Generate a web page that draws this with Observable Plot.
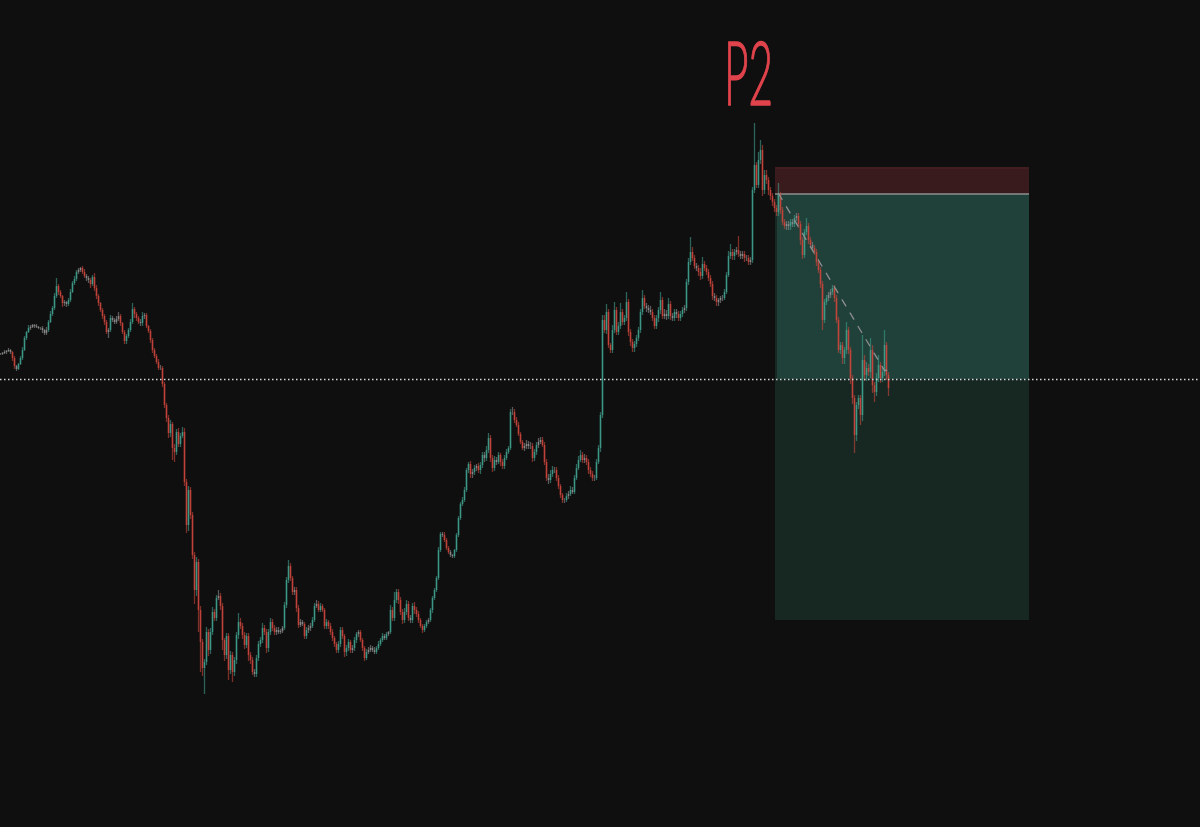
<!DOCTYPE html>
<html>
<head>
<meta charset="utf-8">
<style>
html,body{margin:0;padding:0;background:#0f0f0f;overflow:hidden}
svg{display:block}
</style>
<script src="https://cdn.jsdelivr.net/npm/d3@7"></script>
<script src="https://cdn.jsdelivr.net/npm/@observablehq/plot@0.6"></script>
</head>
<body>
<div id="chart"></div>
<script>
// Closing level per bar (scale runs downward: chart depth, no price axis is shown).
const closes = [
354,353,352,351,350,352,358,366,369,364,
358,350,338,332,328,327,325,326,327,328,
328,330,333,330,322,314,308,296,286,292,
296,303,302,304,300,292,283,279,272,270,
268,272,276,278,280,284,277,288,296,303,
310,316,322,332,330,318,320,322,319,316,
323,332,341,336,330,322,309,314,318,322,
323,316,315,326,331,340,350,356,362,368,
368,384,405,418,433,424,448,452,432,444,
436,432,482,525,490,515,555,590,562,610,
642,668,662,632,650,632,612,618,598,596,
606,640,655,636,670,655,672,660,635,622,
626,635,645,636,655,660,672,674,658,644,
640,628,632,648,632,622,628,632,630,632,
631,628,605,580,566,578,592,590,608,625,
622,624,636,630,628,626,620,606,604,610,
606,610,626,622,626,632,638,644,650,644,
630,636,652,648,642,650,648,640,634,632,
640,648,658,652,650,648,650,652,648,644,
640,636,638,634,632,610,618,600,592,600,
612,620,612,604,618,620,606,610,614,620,
626,630,626,622,620,610,598,590,578,550,
534,535,540,548,552,555,556,550,535,518,
504,500,490,470,464,474,472,468,466,470,
465,455,458,450,438,458,468,460,462,455,
462,466,458,452,448,412,412,420,425,434,
442,448,446,444,446,446,458,452,445,442,
440,445,462,478,480,474,470,470,478,486,
495,500,500,496,494,490,492,478,468,460,
455,460,458,462,470,474,478,478,462,448,
415,320,330,312,345,350,330,310,332,326,
312,322,318,302,332,342,348,344,338,330,
312,298,306,308,310,312,318,326,318,310,
300,316,314,316,304,316,318,312,314,318,
314,310,308,282,262,252,258,266,268,272,
276,264,268,272,278,284,296,298,302,300,
298,298,292,275,256,252,256,252,250,254,
256,254,258,258,262,260,190,165,185,160,
150,190,175,180,190,196,202,208,212,195,
210,222,226,224,226,222,224,218,216,224,
240,255,232,226,240,245,248,252,262,270,
284,320,302,298,295,292,288,298,320,350,
345,358,350,330,350,378,398,435,405,398,
415,360,375,368,372,350,385,392,378,365,
378,372,345,375,388
];
const wickUp = [
1,1,2,1,2,1,1,2,1,1,
2,3,2,1,3,2,1,1,2,1,
1,2,1,3,2,3,2,3,8,2,
2,1,2,1,2,3,2,3,2,2,
1,2,3,2,2,2,2,4,3,2,
1,2,2,2,2,3,2,2,3,4,
2,1,2,2,2,3,6,2,2,2,
3,4,2,2,1,2,2,2,2,3,
3,2,2,2,3,4,2,4,3,4,
3,5,4,3,4,3,3,3,5,3,
4,3,3,5,3,4,5,3,3,6,
3,3,2,3,3,4,3,3,3,9,
4,3,3,3,3,3,3,3,3,3,
3,5,3,3,3,4,3,3,3,3,
2,2,3,3,6,3,2,3,3,3,
3,2,2,3,3,3,3,3,4,3,
3,2,2,3,2,3,3,2,2,3,
3,3,2,3,3,2,3,3,2,2,
2,2,2,3,3,3,2,3,2,3,
2,3,2,2,1,5,3,8,3,3,
3,3,4,4,3,3,3,4,3,3,
2,2,2,2,2,2,2,2,2,3,
2,2,3,2,2,2,1,1,2,2,
2,3,3,2,2,3,3,3,2,3,
3,3,3,4,5,3,3,4,3,3,
2,3,3,3,2,3,5,3,3,3,
2,2,3,4,3,4,3,3,3,4,
3,3,3,3,4,4,4,3,3,3,
2,2,2,3,3,4,3,3,4,4,
5,3,4,3,3,3,3,3,3,3,
3,5,5,8,3,2,5,8,3,4,
9,3,3,10,3,3,3,3,3,3,
3,8,3,3,3,4,3,3,3,3,
8,3,5,4,6,3,3,3,3,3,
3,3,3,3,4,15,5,3,3,3,
4,7,3,3,3,3,3,3,3,2,
2,3,3,3,5,8,3,3,3,14,
3,3,3,3,3,3,3,42,3,8,
10,5,5,5,3,3,3,3,3,12,
3,3,3,3,3,3,3,3,3,3,
3,3,3,8,3,3,3,3,3,3,
3,3,3,3,3,3,3,3,3,3,
3,3,3,8,3,3,3,3,3,3,
3,25,5,6,4,12,5,3,5,10,
3,4,15,3,3
];
const wickDown = [
1,1,1,2,1,2,3,3,2,1,
1,2,1,2,1,2,1,2,1,1,
2,3,2,2,2,1,2,2,2,3,
2,4,3,3,2,2,1,2,2,2,
2,2,2,3,3,4,2,3,3,3,
2,3,3,2,6,2,2,2,2,2,
3,2,3,3,2,2,2,4,3,2,
3,3,3,2,2,3,3,2,2,2,
2,3,3,4,5,4,12,10,3,3,
3,2,4,8,6,4,4,14,6,22,
30,8,26,3,6,4,3,3,3,2,
4,10,6,4,10,4,10,4,4,4,
3,4,4,3,6,4,3,3,3,3,
3,3,3,5,4,3,3,3,3,2,
2,2,2,3,3,3,3,3,4,3,
2,2,3,3,3,3,2,2,2,2,
2,2,3,3,3,3,3,3,3,3,
3,3,5,4,3,3,3,3,3,3,
2,3,3,2,2,2,2,2,2,2,
2,2,2,2,2,2,3,3,3,4,
3,4,3,3,3,3,3,4,3,3,
2,3,2,2,2,2,3,2,2,2,
2,2,2,2,2,2,2,2,2,2,
2,2,2,2,3,4,4,3,3,3,
4,3,4,3,3,4,4,3,3,2,
4,3,3,2,2,2,3,3,2,2,
2,2,3,3,3,3,4,3,3,3,
2,2,3,3,4,3,3,3,3,3,
3,3,3,2,3,2,2,2,2,2,
2,3,3,3,4,3,3,3,2,2,
4,3,3,4,3,3,3,3,3,3,
3,3,3,3,4,4,4,4,3,3,
3,3,3,4,3,3,3,3,3,4,
4,3,3,4,3,4,3,3,4,3,
3,3,3,3,3,3,3,3,3,4,
4,3,3,3,3,3,4,3,4,4,
3,3,2,2,2,3,4,4,3,3,
3,3,4,3,3,3,3,3,3,3,
4,6,4,4,5,4,4,4,4,4,
4,3,3,4,4,4,3,3,3,4,
5,4,3,3,4,3,3,3,4,3,
4,10,3,3,3,3,3,4,3,3,
4,6,6,4,4,6,6,18,6,4,
10,6,6,6,4,6,8,10,4,4,
5,4,4,5,8
];

// Trade drawing levels, in bars and chart depth.
const tradeStartBar = 387.5, tradeInnerBar = 388.5, tradeEndBar = 514.5;
const stopLevel = 167, entryLevel = 193.5, currentLevel = 379, targetLevel = 620;
const pathBars = [389, 442, 445.5];
const pathLevels = [193, 370, 369];
const annotation = [{bar: 374, level: 104, label: "P2"}];

const colors = {background: "#0f0f0f", up: "#3f9c8b", down: "#c9453c", doji: "#8c8c8c",
  stop: "#3a1b1d", stopEdge: "#4b2023", targetDark: "#172823", targetLight: "#20413a",
  entry: "#8f8f8f", dots: "#d8d8d8", ink: "#e0434b"};

const bars = closes.map((close, i) => {
  const open = i ? closes[i - 1] : close;
  const hi = Math.min(open, close), lo = Math.max(open, close);
  return {i, open, close, high: hi - wickUp[i], low: lo + wickDown[i],
    kind: Math.abs(open - close) <= 3 ? "doji" : close < open ? "up" : "down"};
});
const path = pathBars.map((bar, k) => ({bar, level: pathLevels[k]}));

const plot = Plot.plot({
  width: 1200, height: 827,
  marginTop: 0, marginRight: 0, marginBottom: 0, marginLeft: 0,
  style: {background: colors.background},
  x: {domain: [0, 600], range: [0, 1200], axis: null},
  y: {domain: [0, 827], range: [0, 827], axis: null},
  color: {domain: ["up", "down", "doji"], range: [colors.up, colors.down, colors.doji]},
  marks: [
    Plot.rectY([0], {x1: tradeStartBar, x2: tradeEndBar, y1: entryLevel, y2: targetLevel, fill: colors.targetDark}),
    Plot.rectY([0], {x1: tradeInnerBar, x2: tradeEndBar, y1: entryLevel, y2: currentLevel, fill: colors.targetLight}),
    Plot.rectY([0], {x1: tradeStartBar, x2: tradeEndBar, y1: stopLevel, y2: entryLevel, fill: colors.stop}),
    Plot.ruleY([stopLevel + 0.5], {x1: tradeStartBar, x2: tradeEndBar, stroke: colors.stopEdge, strokeWidth: 1}),
    Plot.ruleY([entryLevel], {x1: tradeStartBar, x2: tradeEndBar, stroke: colors.entry, strokeWidth: 1.5}),
    Plot.ruleX(bars, {x: "i", y1: "high", y2: "low", stroke: "kind", strokeWidth: 1.3, strokeOpacity: 0.6}),
    Plot.ruleX(bars, {x: "i", y1: "open", y2: "close", stroke: "kind", strokeWidth: 1.5, strokeOpacity: 0.9}),
    Plot.line(path, {x: "bar", y: "level", stroke: colors.entry, strokeWidth: 1.3, strokeDasharray: "7,8.5"}),
    Plot.ruleY([currentLevel], {stroke: colors.dots, strokeWidth: 1.3, strokeDasharray: "1.5,2.5"}),
    Plot.text(annotation, {x: "bar", y: "level", text: "label", lineAnchor: "bottom",
      fontFamily: "Lato", fontSize: 88, fontWeight: 300, fill: colors.ink,
      stroke: colors.ink, strokeWidth: 1.5, strokeLinejoin: "round"})
  ]
});
d3.select(plot).selectAll("text").filter(function () { return this.textContent === "P2"; })
  .attr("textLength", 49).attr("lengthAdjust", "spacingAndGlyphs");
document.getElementById("chart").appendChild(plot);
</script>
</body>
</html>
